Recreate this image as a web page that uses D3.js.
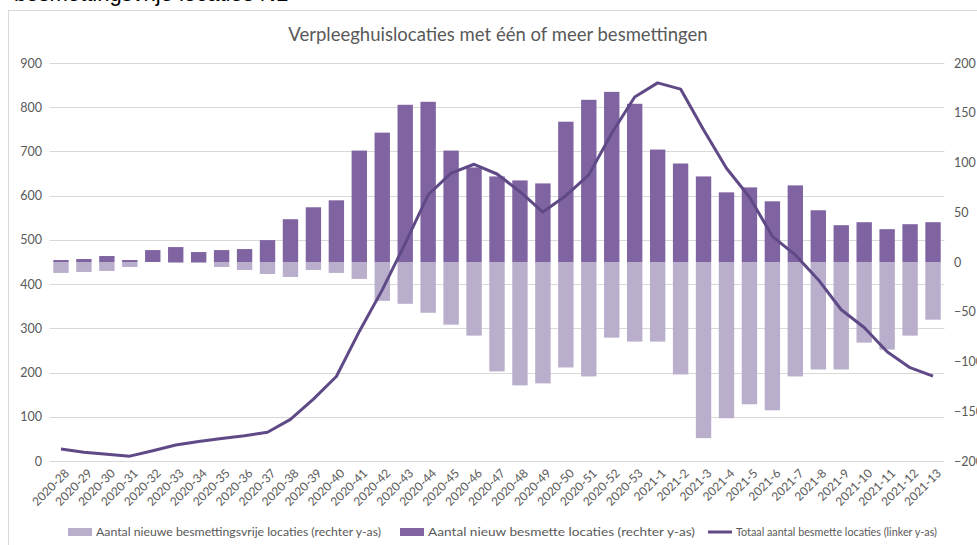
<!DOCTYPE html>
<html>
<head>
<meta charset="utf-8">
<script src="https://cdn.jsdelivr.net/npm/d3@7"></script>
<style>
  body { margin: 0; background: #fff; }
  svg { display: block; font-family: Lato, "Open Sans", sans-serif; }
</style>
</head>
<body>
<div id="chart"></div>
<script>
// weeks on the x axis
var weeks = ["2020-28","2020-29","2020-30","2020-31","2020-32","2020-33","2020-34","2020-35","2020-36","2020-37",
  "2020-38","2020-39","2020-40","2020-41","2020-42","2020-43","2020-44","2020-45","2020-46","2020-47",
  "2020-48","2020-49","2020-50","2020-51","2020-52","2020-53","2021-1","2021-2","2021-3","2021-4",
  "2021-5","2021-6","2021-7","2021-8","2021-9","2021-10","2021-11","2021-12","2021-13"];

// nieuw besmette locaties (rechter y-as)
var nieuwBesmet = [2, 3, 6, 2, 12, 15, 10, 12, 13, 22,
  43, 55, 62, 112, 130, 158, 161, 112, 95, 86,
  82, 79, 141, 163, 171, 159, 113, 99, 86, 70,
  75, 61, 77, 52, 37, 40, 33, 38, 40];

// nieuwe besmettingsvrije locaties (rechter y-as), negatief
var nieuwVrij = [-11, -10, -9, -5, 0, -1, -1, -5, -8, -12,
  -15, -8, -11, -17, -39, -42, -51, -63, -74, -110,
  -124, -122, -106, -115, -76, -80, -80, -113, -177, -157,
  -143, -149, -115, -108, -108, -81, -88, -74, -58];

// totaal aantal besmette locaties (linker y-as)
var totaal = [27, 20, 15, 11, 23, 36, 44, 51, 57, 65,
  94, 140, 191, 293, 387, 492, 602, 651, 671, 649,
  609, 563, 600, 647, 741, 823, 855, 841, 749, 662,
  597, 508, 466, 410, 342, 302, 247, 211, 192];

var leftTicks = [0, 100, 200, 300, 400, 500, 600, 700, 800, 900];
var rightTicks = [-200, -150, -100, -50, 0, 50, 100, 150, 200];

var width = 977, height = 545;
var darkColor = "#8064a2", lightColor = "#b9aecc", lineColor = "#5f4a87";
var textColor = "#595959";

var svg = d3.select("#chart").append("svg")
    .attr("width", width)
    .attr("height", height);

// cropped heading above the chart box
svg.append("text")
    .attr("x", 14)
    .attr("y", 1)
    .style("font-size", "22px")
    .style("fill", "#000")
    .style("font-family", "'Liberation Sans', sans-serif")
    .text("besmettingsvrije locaties NL");

// chart box border
svg.append("rect")
    .attr("x", 8.5)
    .attr("y", 10.5)
    .attr("width", 1000)
    .attr("height", 600)
    .attr("fill", "#fff")
    .attr("stroke", "#d9d9d9");

var x = d3.scaleBand()
    .domain(weeks)
    .range([49.5, 944.5])
    .paddingInner(0.33)
    .paddingOuter(0.165);

var yLeft = d3.scaleLinear().domain([0, 900]).range([461, 63]);
var yRight = d3.scaleLinear().domain([-200, 200]).range([461, 63]);

// gridlines
svg.append("g")
    .selectAll("line")
    .data(leftTicks)
    .enter().append("line")
    .attr("x1", 49.5)
    .attr("x2", 944.5)
    .attr("y1", function(d) { return Math.round(yLeft(d)) + 0.5; })
    .attr("y2", function(d) { return Math.round(yLeft(d)) + 0.5; })
    .attr("stroke", "#d9d9d9")
    .attr("stroke-width", 1.2);

// left axis
var gl = svg.append("g")
    .attr("transform", "translate(42,0)")
    .call(d3.axisLeft(yLeft).tickValues(leftTicks).tickSize(0).tickPadding(0));
gl.select(".domain").remove();
gl.selectAll("text").style("font-size", "12.5px").style("fill", textColor).style("font-family", "Lato, sans-serif");

// right axis
var gr = svg.append("g")
    .attr("transform", "translate(954,0)")
    .call(d3.axisRight(yRight).tickValues(rightTicks).tickSize(0).tickPadding(0));
gr.select(".domain").remove();
gr.selectAll("text").style("font-size", "12.5px").style("fill", textColor).style("font-family", "Lato, sans-serif");

// light bars (negative)
svg.append("g")
    .selectAll("rect")
    .data(nieuwVrij)
    .enter().append("rect")
    .attr("x", function(d, i) { return x(weeks[i]); })
    .attr("width", x.bandwidth())
    .attr("y", yRight(0))
    .attr("height", function(d) { return yRight(d) - yRight(0); })
    .attr("fill", lightColor);

// dark bars (positive)
svg.append("g")
    .selectAll("rect")
    .data(nieuwBesmet)
    .enter().append("rect")
    .attr("x", function(d, i) { return x(weeks[i]); })
    .attr("width", x.bandwidth())
    .attr("y", function(d) { return yRight(d); })
    .attr("height", function(d) { return yRight(0) - yRight(d); })
    .attr("fill", darkColor);

// line
var line = d3.line()
    .x(function(d, i) { return x(weeks[i]) + x.bandwidth() / 2; })
    .y(function(d) { return yLeft(d); });

svg.append("path")
    .datum(totaal)
    .attr("d", line)
    .attr("fill", "none")
    .attr("stroke", lineColor)
    .attr("stroke-width", 3)
    .attr("stroke-linejoin", "round");

// x labels rotated
svg.append("g")
    .selectAll("text")
    .data(weeks)
    .enter().append("text")
    .attr("transform", function(d) {
        return "translate(" + (x(d) + x.bandwidth() / 2 + 6) + ",471) rotate(-45)";
    })
    .attr("text-anchor", "end")
    .attr("dy", "0.35em")
    .style("font-size", "12px")
    .style("fill", textColor)
    .text(function(d) { return d; });

// title
svg.append("text")
    .attr("x", 498)
    .attr("y", 41)
    .attr("text-anchor", "middle")
    .style("font-size", "18.5px")
    .style("fill", textColor)
    .text("Verpleeghuislocaties met één of meer besmettingen");

// legend
var legend = [
  { label: "Aantal nieuwe besmettingsvrije locaties (rechter y-as)", color: lightColor, type: "rect", x: 68, w: 285 },
  { label: "Aantal nieuw besmette locaties (rechter y-as)", color: darkColor, type: "rect", x: 400, w: 267 },
  { label: "Totaal aantal besmette locaties (linker y-as)", color: lineColor, type: "line", x: 708, w: 201 }
];

var lg = svg.append("g").selectAll("g")
    .data(legend)
    .enter().append("g")
    .attr("transform", function(d) { return "translate(" + d.x + ",532)"; });

lg.filter(function(d) { return d.type == "rect"; })
    .append("rect")
    .attr("x", 0).attr("y", -4).attr("width", 24).attr("height", 8)
    .attr("fill", function(d) { return d.color; });

lg.filter(function(d) { return d.type == "line"; })
    .append("line")
    .attr("x1", 0).attr("x2", 24).attr("y1", 0).attr("y2", 0)
    .attr("stroke", function(d) { return d.color; })
    .attr("stroke-width", 3);

lg.append("text")
    .attr("x", 28)
    .attr("dy", "0.35em")
    .attr("textLength", function(d) { return d.w; })
    .attr("lengthAdjust", "spacingAndGlyphs")
    .style("font-size", "12px")
    .style("fill", textColor)
    .text(function(d) { return d.label; });
</script>
</body>
</html>
